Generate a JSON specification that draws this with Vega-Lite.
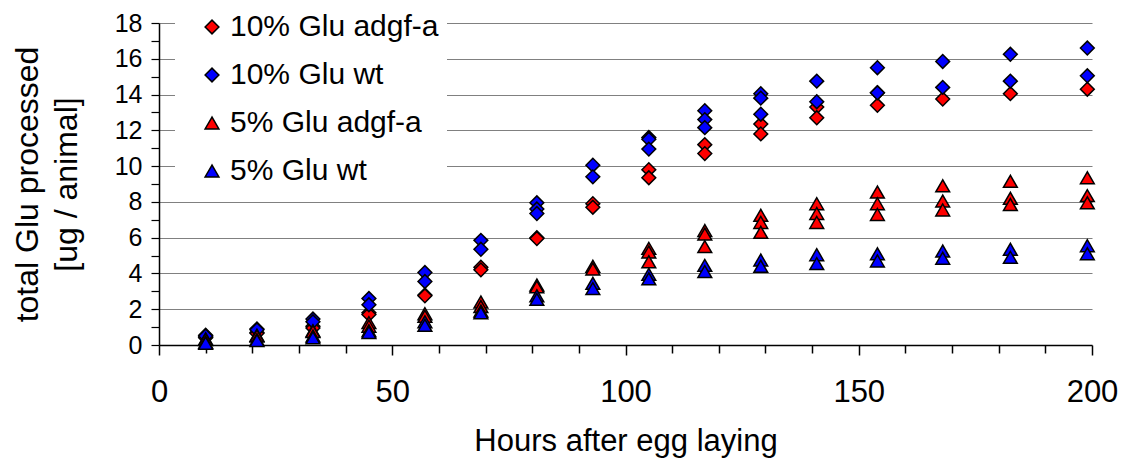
{
  "$schema": "https://vega.github.io/schema/vega-lite/v6.json",
  "width": 933,
  "height": 322,
  "autosize": {"type": "none"},
  "padding": {"left": 159, "top": 23, "right": 36, "bottom": 117},
  "background": "white",
  "config": {"view": {"stroke": null}, "font": "Liberation Sans"},
  "data": {"values": [
    {"hours": 10, "glu": 0.45, "series": "10% Glu adgf-a"}, {"hours": 10, "glu": 0.4, "series": "10% Glu adgf-a"},
    {"hours": 21, "glu": 0.7, "series": "10% Glu adgf-a"}, {"hours": 21, "glu": 0.65, "series": "10% Glu adgf-a"},
    {"hours": 33, "glu": 1.05, "series": "10% Glu adgf-a"}, {"hours": 33, "glu": 0.95, "series": "10% Glu adgf-a"},
    {"hours": 45, "glu": 1.8, "series": "10% Glu adgf-a"}, {"hours": 45, "glu": 1.7, "series": "10% Glu adgf-a"},
    {"hours": 57, "glu": 2.8, "series": "10% Glu adgf-a"}, {"hours": 57, "glu": 2.75, "series": "10% Glu adgf-a"},
    {"hours": 69, "glu": 4.35, "series": "10% Glu adgf-a"}, {"hours": 69, "glu": 4.2, "series": "10% Glu adgf-a"},
    {"hours": 81, "glu": 6.0, "series": "10% Glu adgf-a"}, {"hours": 81, "glu": 5.95, "series": "10% Glu adgf-a"},
    {"hours": 93, "glu": 7.9, "series": "10% Glu adgf-a"}, {"hours": 93, "glu": 7.7, "series": "10% Glu adgf-a"},
    {"hours": 105, "glu": 9.8, "series": "10% Glu adgf-a"}, {"hours": 105, "glu": 9.35, "series": "10% Glu adgf-a"},
    {"hours": 117, "glu": 11.2, "series": "10% Glu adgf-a"}, {"hours": 117, "glu": 10.7, "series": "10% Glu adgf-a"},
    {"hours": 129, "glu": 12.35, "series": "10% Glu adgf-a"}, {"hours": 129, "glu": 11.8, "series": "10% Glu adgf-a"},
    {"hours": 141, "glu": 13.3, "series": "10% Glu adgf-a"}, {"hours": 141, "glu": 12.7, "series": "10% Glu adgf-a"},
    {"hours": 154, "glu": 14.1, "series": "10% Glu adgf-a"}, {"hours": 154, "glu": 13.4, "series": "10% Glu adgf-a"},
    {"hours": 168, "glu": 13.75, "series": "10% Glu adgf-a"},
    {"hours": 182.5, "glu": 14.05, "series": "10% Glu adgf-a"},
    {"hours": 199, "glu": 14.3, "series": "10% Glu adgf-a"},

    {"hours": 10, "glu": 0.55, "series": "10% Glu wt"}, {"hours": 10, "glu": 0.5, "series": "10% Glu wt"},
    {"hours": 21, "glu": 0.9, "series": "10% Glu wt"}, {"hours": 21, "glu": 0.85, "series": "10% Glu wt"},
    {"hours": 33, "glu": 1.45, "series": "10% Glu wt"}, {"hours": 33, "glu": 1.3, "series": "10% Glu wt"},
    {"hours": 45, "glu": 2.6, "series": "10% Glu wt"}, {"hours": 45, "glu": 2.25, "series": "10% Glu wt"},
    {"hours": 57, "glu": 4.05, "series": "10% Glu wt"}, {"hours": 57, "glu": 3.55, "series": "10% Glu wt"},
    {"hours": 69, "glu": 5.85, "series": "10% Glu wt"}, {"hours": 69, "glu": 5.35, "series": "10% Glu wt"},
    {"hours": 81, "glu": 7.95, "series": "10% Glu wt"}, {"hours": 81, "glu": 7.6, "series": "10% Glu wt"}, {"hours": 81, "glu": 7.35, "series": "10% Glu wt"},
    {"hours": 93, "glu": 10.05, "series": "10% Glu wt"}, {"hours": 93, "glu": 9.4, "series": "10% Glu wt"},
    {"hours": 105, "glu": 11.6, "series": "10% Glu wt"}, {"hours": 105, "glu": 11.5, "series": "10% Glu wt"}, {"hours": 105, "glu": 10.95, "series": "10% Glu wt"},
    {"hours": 117, "glu": 13.1, "series": "10% Glu wt"}, {"hours": 117, "glu": 12.6, "series": "10% Glu wt"}, {"hours": 117, "glu": 12.15, "series": "10% Glu wt"},
    {"hours": 129, "glu": 14.05, "series": "10% Glu wt"}, {"hours": 129, "glu": 13.8, "series": "10% Glu wt"}, {"hours": 129, "glu": 12.9, "series": "10% Glu wt"},
    {"hours": 141, "glu": 14.75, "series": "10% Glu wt"}, {"hours": 141, "glu": 13.6, "series": "10% Glu wt"},
    {"hours": 154, "glu": 15.5, "series": "10% Glu wt"}, {"hours": 154, "glu": 14.1, "series": "10% Glu wt"},
    {"hours": 168, "glu": 15.85, "series": "10% Glu wt"}, {"hours": 168, "glu": 14.4, "series": "10% Glu wt"},
    {"hours": 182.5, "glu": 16.25, "series": "10% Glu wt"}, {"hours": 182.5, "glu": 14.75, "series": "10% Glu wt"},
    {"hours": 199, "glu": 16.6, "series": "10% Glu wt"}, {"hours": 199, "glu": 15.05, "series": "10% Glu wt"},

    {"hours": 10, "glu": 0.35, "series": "5% Glu adgf-a"}, {"hours": 10, "glu": 0.3, "series": "5% Glu adgf-a"},
    {"hours": 21, "glu": 0.55, "series": "5% Glu adgf-a"}, {"hours": 21, "glu": 0.5, "series": "5% Glu adgf-a"},
    {"hours": 33, "glu": 0.8, "series": "5% Glu adgf-a"}, {"hours": 33, "glu": 0.75, "series": "5% Glu adgf-a"},
    {"hours": 45, "glu": 1.25, "series": "5% Glu adgf-a"}, {"hours": 45, "glu": 1.05, "series": "5% Glu adgf-a"},
    {"hours": 57, "glu": 1.75, "series": "5% Glu adgf-a"}, {"hours": 57, "glu": 1.6, "series": "5% Glu adgf-a"},
    {"hours": 69, "glu": 2.4, "series": "5% Glu adgf-a"}, {"hours": 69, "glu": 2.15, "series": "5% Glu adgf-a"},
    {"hours": 81, "glu": 3.35, "series": "5% Glu adgf-a"}, {"hours": 81, "glu": 3.25, "series": "5% Glu adgf-a"},
    {"hours": 93, "glu": 4.4, "series": "5% Glu adgf-a"}, {"hours": 93, "glu": 4.25, "series": "5% Glu adgf-a"},
    {"hours": 105, "glu": 5.4, "series": "5% Glu adgf-a"}, {"hours": 105, "glu": 5.2, "series": "5% Glu adgf-a"}, {"hours": 105, "glu": 4.65, "series": "5% Glu adgf-a"},
    {"hours": 117, "glu": 6.4, "series": "5% Glu adgf-a"}, {"hours": 117, "glu": 6.2, "series": "5% Glu adgf-a"}, {"hours": 117, "glu": 5.5, "series": "5% Glu adgf-a"},
    {"hours": 129, "glu": 7.25, "series": "5% Glu adgf-a"}, {"hours": 129, "glu": 6.85, "series": "5% Glu adgf-a"}, {"hours": 129, "glu": 6.3, "series": "5% Glu adgf-a"},
    {"hours": 141, "glu": 7.9, "series": "5% Glu adgf-a"}, {"hours": 141, "glu": 7.35, "series": "5% Glu adgf-a"}, {"hours": 141, "glu": 6.85, "series": "5% Glu adgf-a"},
    {"hours": 154, "glu": 8.55, "series": "5% Glu adgf-a"}, {"hours": 154, "glu": 7.9, "series": "5% Glu adgf-a"}, {"hours": 154, "glu": 7.3, "series": "5% Glu adgf-a"},
    {"hours": 168, "glu": 8.9, "series": "5% Glu adgf-a"}, {"hours": 168, "glu": 8.05, "series": "5% Glu adgf-a"}, {"hours": 168, "glu": 7.55, "series": "5% Glu adgf-a"},
    {"hours": 182.5, "glu": 9.15, "series": "5% Glu adgf-a"}, {"hours": 182.5, "glu": 8.2, "series": "5% Glu adgf-a"}, {"hours": 182.5, "glu": 7.85, "series": "5% Glu adgf-a"},
    {"hours": 199, "glu": 9.35, "series": "5% Glu adgf-a"}, {"hours": 199, "glu": 8.35, "series": "5% Glu adgf-a"}, {"hours": 199, "glu": 7.95, "series": "5% Glu adgf-a"},

    {"hours": 10, "glu": 0.15, "series": "5% Glu wt"}, {"hours": 10, "glu": 0.1, "series": "5% Glu wt"},
    {"hours": 21, "glu": 0.3, "series": "5% Glu wt"}, {"hours": 21, "glu": 0.25, "series": "5% Glu wt"},
    {"hours": 33, "glu": 0.5, "series": "5% Glu wt"}, {"hours": 33, "glu": 0.4, "series": "5% Glu wt"},
    {"hours": 45, "glu": 0.8, "series": "5% Glu wt"}, {"hours": 45, "glu": 0.7, "series": "5% Glu wt"},
    {"hours": 57, "glu": 1.3, "series": "5% Glu wt"}, {"hours": 57, "glu": 1.1, "series": "5% Glu wt"},
    {"hours": 69, "glu": 1.9, "series": "5% Glu wt"}, {"hours": 69, "glu": 1.8, "series": "5% Glu wt"},
    {"hours": 81, "glu": 2.75, "series": "5% Glu wt"}, {"hours": 81, "glu": 2.55, "series": "5% Glu wt"},
    {"hours": 93, "glu": 3.45, "series": "5% Glu wt"}, {"hours": 93, "glu": 3.15, "series": "5% Glu wt"},
    {"hours": 105, "glu": 3.95, "series": "5% Glu wt"}, {"hours": 105, "glu": 3.7, "series": "5% Glu wt"},
    {"hours": 117, "glu": 4.45, "series": "5% Glu wt"}, {"hours": 117, "glu": 4.1, "series": "5% Glu wt"},
    {"hours": 129, "glu": 4.75, "series": "5% Glu wt"}, {"hours": 129, "glu": 4.4, "series": "5% Glu wt"},
    {"hours": 141, "glu": 5.05, "series": "5% Glu wt"}, {"hours": 141, "glu": 4.55, "series": "5% Glu wt"},
    {"hours": 154, "glu": 5.1, "series": "5% Glu wt"}, {"hours": 154, "glu": 4.7, "series": "5% Glu wt"},
    {"hours": 168, "glu": 5.25, "series": "5% Glu wt"}, {"hours": 168, "glu": 4.85, "series": "5% Glu wt"},
    {"hours": 182.5, "glu": 5.35, "series": "5% Glu wt"}, {"hours": 182.5, "glu": 4.9, "series": "5% Glu wt"},
    {"hours": 199, "glu": 5.55, "series": "5% Glu wt"}, {"hours": 199, "glu": 5.1, "series": "5% Glu wt"}
  ]},
  "mark": {"type": "point", "filled": true, "stroke": "black", "strokeWidth": 1.5, "opacity": 1, "size": 190},
  "encoding": {
    "x": {
      "field": "hours", "type": "quantitative",
      "scale": {"domain": [0, 200], "nice": false, "zero": false},
      "axis": {
        "title": "Hours after egg laying",
        "values": [0, 10, 20, 30, 40, 50, 60, 70, 80, 90, 100, 110, 120, 130, 140, 150, 160, 170, 180, 190, 200],
        "labelExpr": "datum.value % 50 === 0 ? datum.label : ''",
        "grid": false,
        "domainColor": "black", "domainWidth": 1.5,
        "tickColor": "black", "tickWidth": 1.5,
        "tickSize": {"condition": {"test": "datum.value % 50 === 0", "value": 10}, "value": 8},
        "labelFontSize": 31, "labelColor": "black", "labelPadding": 22,
        "labelFlush": false, "labelOverlap": false,
        "titleFontSize": 31, "titleFontWeight": "normal", "titleColor": "black", "titlePadding": 19
      }
    },
    "y": {
      "field": "glu", "type": "quantitative",
      "scale": {"domain": [0, 18], "nice": false},
      "axis": {
        "title": ["total Glu processed", "[ug / animal]"],
        "values": [0, 0.5, 1, 1.5, 2, 2.5, 3, 3.5, 4, 4.5, 5, 5.5, 6, 6.5, 7, 7.5, 8, 8.5, 9, 9.5, 10, 10.5, 11, 11.5, 12, 12.5, 13, 13.5, 14, 14.5, 15, 15.5, 16, 16.5, 17, 17.5, 18],
        "format": "d",
        "labelExpr": "datum.value % 2 === 0 ? datum.label : ''",
        "grid": true, "gridColor": "#808080", "gridWidth": 1,
        "gridOpacity": {"condition": {"test": "datum.value % 2 === 0 && datum.value > 0", "value": 1}, "value": 0},
        "domainColor": "black", "domainWidth": 1.5,
        "tickColor": "black", "tickWidth": 1.2, "tickSize": 8,
        "labelFontSize": 25, "labelColor": "black", "labelPadding": 9,
        "labelFlush": false, "labelOverlap": false,
        "titleFontSize": 32, "titleFontWeight": "normal", "titleColor": "black",
        "titleLineHeight": 39, "titlePadding": 31
      }
    },
    "color": {
      "field": "series", "type": "nominal",
      "scale": {"domain": ["10% Glu adgf-a", "10% Glu wt", "5% Glu adgf-a", "5% Glu wt"], "range": ["#FF0000", "#0000FF", "#FF0000", "#0000FF"]},
      "legend": {"title": null, "orient": "none", "legendX": 16, "legendY": -19, "fillColor": "white", "padding": 8, "symbolOffset": 14, "labelOffset": 3, "labelFontSize": 30, "labelColor": "black", "labelLimit": 0, "rowPadding": 18, "symbolSize": 190, "symbolStrokeColor": "black", "symbolStrokeWidth": 1.5}
    },
    "shape": {
      "field": "series", "type": "nominal",
      "scale": {"domain": ["10% Glu adgf-a", "10% Glu wt", "5% Glu adgf-a", "5% Glu wt"], "range": ["diamond", "diamond", "triangle-up", "triangle-up"]},
      "legend": {"title": null, "orient": "none", "legendX": 16, "legendY": -19, "fillColor": "white", "padding": 8, "symbolOffset": 14, "labelOffset": 3, "labelFontSize": 30, "labelColor": "black", "labelLimit": 0, "rowPadding": 18, "symbolSize": 190, "symbolStrokeColor": "black", "symbolStrokeWidth": 1.5}
    }
  }
}
